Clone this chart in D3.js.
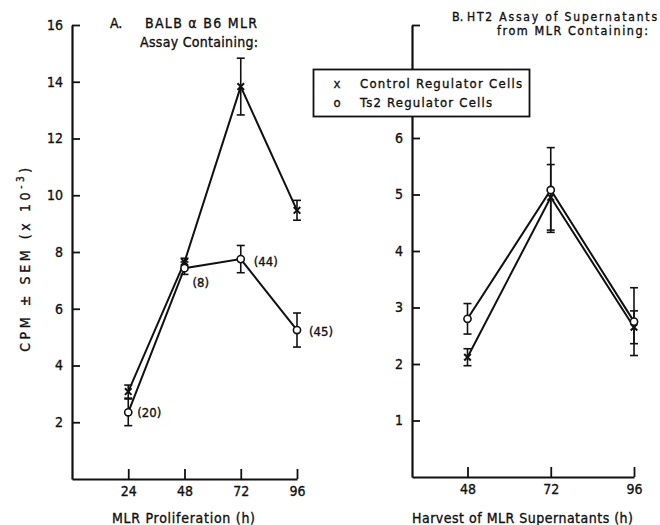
<!DOCTYPE html>
<html>
<head>
<meta charset="utf-8">
<script src="https://cdn.jsdelivr.net/npm/d3@7"></script>
<style>
  html, body { margin: 0; padding: 0; background: #fff; }
  svg { display: block; }
  text { font-family: "DejaVu Sans Condensed", "DejaVu Sans", sans-serif; fill: #111; stroke: #111; stroke-width: 0.35px; }
</style>
</head>
<body>
<svg id="chart" width="660" height="525"></svg>
<script>
// ---- Data ----
const hoursA = [24, 48, 72, 96];
const controlA = [3.08, 7.65, 13.83, 9.47];
const controlASem = [0.23, 0.13, 1.0, 0.35];
const ts2A = [2.35, 7.43, 7.75, 5.25];
const ts2ASem = [0.47, 0.22, 0.48, 0.6];
const ts2ALabels = ["(20)", "(8)", "(44)", "(45)"];

const hoursB = [48, 72, 96];
const controlB = [2.12, 4.95, 2.65];
const controlBSem = [0.15, 0.58, 0.29];
const ts2B = [2.8, 5.08, 2.75];
const ts2BSem = [0.27, 0.75, 0.6];

const yTicksA = [2, 4, 6, 8, 10, 12, 14, 16];
const yTicksB = [1, 2, 3, 4, 5, 6, 8];
const xTicksA = [24, 48, 72, 96];
const xTicksB = [48, 72, 96];

const legendLabels = ["Control Regulator Cells", "Ts2 Regulator Cells"];

// ---- Setup ----
const svg = d3.select("#chart");
const ink = "#111";

const xA = d3.scaleLinear().domain([0, 96]).range([72, 297]);
const yA = d3.scaleLinear().domain([0, 16]).range([479, 25]);
const xB = d3.scaleLinear().domain([32, 96]).range([412, 634]);
const yB = d3.scaleLinear().domain([0, 8]).range([477, 25]);

function drawAxes(g, x, y, xt, yt, yLabelMax) {
  const ay = d3.axisLeft(y).tickValues(yt).tickSizeInner(-8).tickSizeOuter(0)
    .tickFormat(d => d <= yLabelMax ? d : "").tickPadding(9);
  const gy = g.append("g").attr("transform", `translate(${x.range()[0]},0)`).call(ay);
  const ax = d3.axisBottom(x).tickValues(xt).tickSizeInner(-10).tickSizeOuter(0).tickPadding(7);
  const gx = g.append("g").attr("transform", `translate(0,${y.range()[0]})`).call(ax);
  [gy, gx].forEach(a => {
    a.select(".domain").attr("stroke", ink).attr("stroke-width", 2.2);
    a.selectAll(".tick line").attr("stroke", ink).attr("stroke-width", 1.8);
    a.selectAll(".tick text").attr("fill", ink)
      .style("font-family", '"DejaVu Sans Condensed", sans-serif')
      .style("font-size", "14px");
  });
}

function drawSeries(g, x, y, hours, vals, sems, type) {
  const pts = hours.map((h, i) => ({ h, v: vals[i], s: sems[i] }));
  const line = d3.line().x(d => x(d.h)).y(d => y(d.v));
  g.append("path").datum(pts).attr("d", line)
    .attr("fill", "none").attr("stroke", ink).attr("stroke-width", 2);
  const eb = g.append("g").attr("stroke", ink).attr("stroke-width", 1.6);
  pts.forEach(d => {
    const cx = x(d.h);
    eb.append("line").attr("x1", cx).attr("x2", cx).attr("y1", y(d.v - d.s)).attr("y2", y(d.v + d.s));
    [d.v - d.s, d.v + d.s].forEach(e => {
      eb.append("line").attr("x1", cx - 4).attr("x2", cx + 4).attr("y1", y(e)).attr("y2", y(e));
    });
  });
  pts.forEach(d => drawMarker(g, x(d.h), y(d.v), type));
  return pts;
}

function drawMarker(g, cx, cy, type) {
  if (type === "o") {
    g.append("circle").attr("cx", cx).attr("cy", cy).attr("r", 3.6)
      .attr("fill", "#fff").attr("stroke", ink).attr("stroke-width", 1.6);
  } else {
    const s = 3.3;
    g.append("path").attr("d", `M${cx - s},${cy - s}L${cx + s},${cy + s}M${cx + s},${cy - s}L${cx - s},${cy + s}`)
      .attr("stroke", ink).attr("stroke-width", 2).attr("fill", "none");
  }
}

// ---- Panel A ----
const gA = svg.append("g");
drawAxes(gA, xA, yA, xTicksA, yTicksA, 16);
drawSeries(gA, xA, yA, hoursA, controlA, controlASem, "x");
const ptsA = drawSeries(gA, xA, yA, hoursA, ts2A, ts2ASem, "o");
const labOff = [[9, 0], [8, 14], [13, 2], [12, 1]];
ptsA.forEach((d, i) => {
  gA.append("text").attr("x", xA(d.h) + labOff[i][0]).attr("y", yA(d.v) + labOff[i][1])
    .attr("dy", "0.35em").style("font-size", "13px").text(ts2ALabels[i]);
});

// ---- Panel B ----
const gB = svg.append("g");
drawAxes(gB, xB, yB, xTicksB, yTicksB, 6);
drawSeries(gB, xB, yB, hoursB, controlB, controlBSem, "x");
drawSeries(gB, xB, yB, hoursB, ts2B, ts2BSem, "o");

// ---- Titles ----
function txt(x, y, s, opts = {}) {
  const t = svg.append("text").attr("x", x).attr("y", y).text(s)
    .style("font-size", (opts.size || 14) + "px");
  if (opts.anchor) t.attr("text-anchor", opts.anchor);
  if (opts.len) t.attr("textLength", opts.len).attr("lengthAdjust", "spacing");
  return t;
}
txt(110, 28, "A.");
txt(145, 28, "BALB \u03b1 B6 MLR", { len: 112 });
txt(140, 47, "Assay Containing:", { len: 118 });
txt(452, 21, "B.", { size: 12.5 });
txt(467, 21, "HT2 Assay of Supernatants", { len: 190, size: 12 });
txt(497, 35, "from MLR Containing:", { len: 151, size: 12.5 });

// ---- Axis labels ----
txt(112, 523, "MLR Proliferation (h)", { len: 143 });
txt(412, 523, "Harvest of MLR Supernatants (h)", { len: 221 });

const yl = svg.append("text")
  .attr("transform", "translate(30,258) rotate(-90)")
  .attr("text-anchor", "middle")
  .style("font-size", "14px").style("letter-spacing", "3.6px");
yl.append("tspan").text("CPM \u00b1 SEM (x 10");
yl.append("tspan").attr("dy", -6).style("font-size", "10px").text("-3");
yl.append("tspan").attr("dy", 6).text(")");

// ---- Legend ----
const lg = svg.append("g");
lg.append("rect").attr("x", 313.5).attr("y", 69.5).attr("width", 216).attr("height", 47)
  .attr("fill", "#fff").attr("stroke", ink).attr("stroke-width", 1.8);
lg.append("text").attr("x", 337).attr("y", 83).attr("dy", "0.35em").attr("text-anchor", "middle")
  .style("font-size", "13px").text("x");
lg.append("text").attr("x", 337).attr("y", 102).attr("dy", "0.35em").attr("text-anchor", "middle")
  .style("font-size", "13px").text("o");
lg.append("text").attr("x", 360).attr("y", 88).attr("textLength", 162).attr("lengthAdjust", "spacing")
  .style("font-size", "13px").text(legendLabels[0]);
lg.append("text").attr("x", 360).attr("y", 107).attr("textLength", 132).attr("lengthAdjust", "spacing")
  .style("font-size", "13px").text(legendLabels[1]);
</script>
</body>
</html>
